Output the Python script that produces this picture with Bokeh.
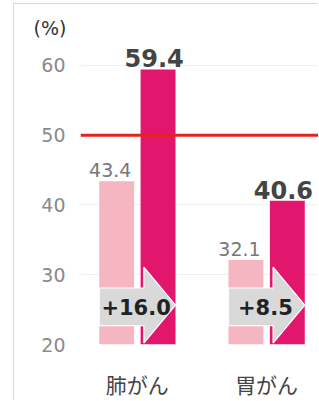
from bokeh.plotting import figure
from bokeh.models import ColumnDataSource, FixedTicker, Span
from bokeh.core.properties import value
from bokeh.embed import file_html
from bokeh.resources import INLINE

# ---- data ----
categories = ["肺がん", "胃がん"]
before_vals = [43.4, 32.1]
after_vals = [59.4, 40.6]
y_ticks = [20, 30, 40, 50, 60]
target_line = 50
unit_label = "(%)"

diff_labels = ["+{:.1f}".format(a - b) for a, b in zip(after_vals, before_vals)]

# ---- layout constants ----
group_x = [i + 1 for i in range(len(categories))]
offset = 0.16
bar_w = 0.27
base = 20

p = figure(width=305, height=397, output_backend="svg", toolbar_location=None,
           x_range=(0.56, 2.409), y_range=(base, 63.57),
           min_border_left=66, min_border_right=0, min_border_top=36, min_border_bottom=56,
           title=unit_label)
p.margin = (3, 0, 0, 13)
p.styles = {"border-left": "1px solid #d9d9d9", "border-top": "1px solid #d9d9d9"}
p.title.align = "left"
p.title.offset = -47
p.title.standoff = 4
p.title.text_font = "DejaVu Sans"
p.title.text_font_size = "19px"
p.title.text_font_style = "normal"
p.title.text_color = "#333333"
p.outline_line_color = None
p.background_fill_color = "white"
p.border_fill_color = "white"

# axes
p.yaxis.ticker = FixedTicker(ticks=y_ticks)
p.yaxis.axis_line_color = None
p.yaxis.major_tick_line_color = None
p.yaxis.minor_tick_line_color = None
p.yaxis.major_tick_out = 0
p.yaxis.major_label_standoff = 15
p.yaxis.major_label_text_font = "DejaVu Sans"
p.yaxis.major_label_text_font_size = "19px"
p.yaxis.major_label_text_color = "#8a8a8a"

p.xaxis.ticker = FixedTicker(ticks=group_x)
p.xaxis.major_label_overrides = {g: c for g, c in zip(group_x, categories)}
p.xaxis.axis_line_color = None
p.xaxis.major_tick_line_color = None
p.xaxis.minor_tick_line_color = None
p.xaxis.major_tick_out = 0
p.xaxis.major_label_standoff = 24
p.xaxis.major_label_text_font = "Noto Sans CJK JP"
p.xaxis.major_label_text_font_size = "21px"
p.xaxis.major_label_text_color = "#444444"

p.xgrid.grid_line_color = None
p.ygrid.ticker = FixedTicker(ticks=y_ticks)
p.ygrid.grid_line_color = "#f0f0f0"

src = ColumnDataSource(dict(
    xl=[g - offset for g in group_x],
    xd=[g + offset for g in group_x],
    before=before_vals,
    after=after_vals,
    before_txt=["{:.1f}".format(v) for v in before_vals],
    after_txt=["{:.1f}".format(v) for v in after_vals],
    before_ty=[v + 1.6 for v in before_vals],
    after_ty=[v + 1.6 for v in after_vals],
    xlt=[g - offset - 0.05 for g in group_x],
    xdt=[g + offset - 0.03 for g in group_x],
    diff=diff_labels,
    xdiff=[g - 0.01 for g in group_x],
    ydiff=[25.4 for g in group_x],
))

p.vbar(x="xl", top="before", bottom=base, width=bar_w, source=src,
       fill_color="#f5b6c1", line_color=None)
p.vbar(x="xd", top="after", bottom=base, width=bar_w, source=src,
       fill_color="#e3166e", line_color=None)

# arrows
xs, ys = [], []
for g in group_x:
    L = g - offset - bar_w / 2
    H = g + 0.05
    T = g + offset + bar_w / 2
    xs.append([L, L, H, H, T, H, H])
    ys.append([22.7, 28.1, 28.1, 31.1, 25.65, 20.2, 22.7])
p.patches(xs=xs, ys=ys, fill_color="#d9d9d9", line_color="white", line_width=1.2)

p.text(x="xdiff", y="ydiff", text="diff", source=src, text_align="center",
       text_baseline="middle", text_font=value("DejaVu Sans"), text_font_style="bold",
       text_font_size="21px", text_color="#222222")

p.text(x="xlt", y="before_ty", text="before_txt", source=src, text_align="center",
       text_baseline="alphabetic", text_font=value("DejaVu Sans"),
       text_font_size="19px", text_color="#777777")
p.text(x="xdt", y="after_ty", text="after_txt", source=src, text_align="center",
       text_baseline="alphabetic", text_font=value("DejaVu Sans"), text_font_style="bold",
       text_font_size="24px", text_color="#444444")

p.add_layout(Span(location=target_line, dimension="width", line_color="#e5221f", line_width=3))

open("out.html", "w").write(file_html(p, INLINE))
